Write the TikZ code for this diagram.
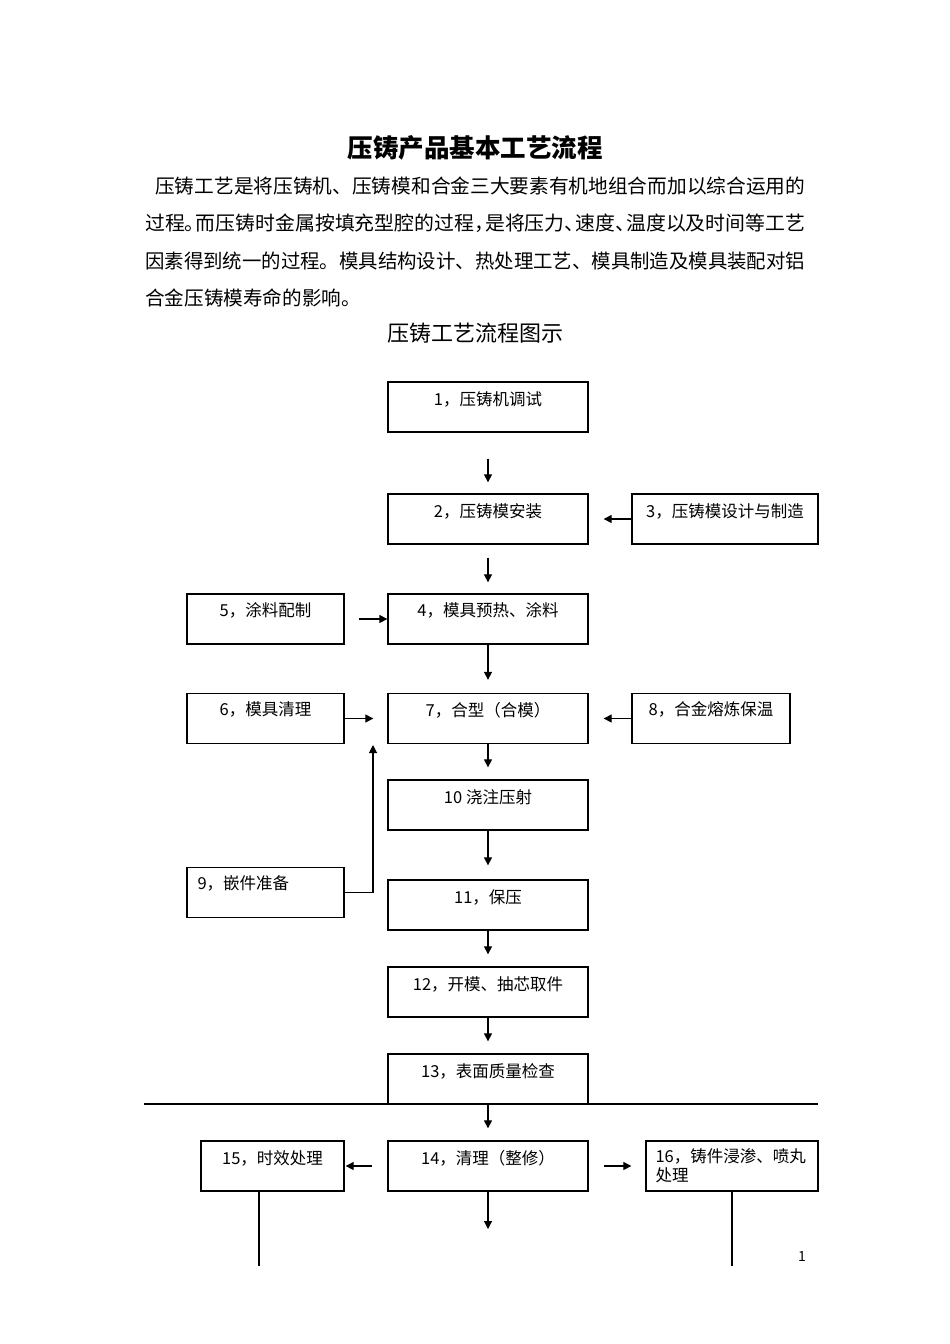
\documentclass[tikz,border=0pt]{standalone}
\usepackage{fontspec}
\usepackage{graphicx}
\setmainfont{Noto Sans CJK SC}
\usetikzlibrary{arrows.meta}
\newcommand{\hp}[1]{\makebox[0.55em][l]{#1}}
\newcommand{\fitline}[1]{\resizebox{660pt}{\height}{#1}}
\begin{document}
\begin{tikzpicture}[x=1pt,y=-1pt,
  box/.style={draw, line width=1.3pt, rectangle, minimum height=50pt, inner sep=0pt},
  lbl/.style={font=\fontsize{16.5}{19}\selectfont, inner sep=0pt},
  body/.style={font=\fontsize{19.6}{22}\selectfont, inner sep=0pt, anchor=west},
  arr/.style={line width=1.1pt, -{Triangle[length=8pt,width=8pt]}},
  ln/.style={line width=1.1pt}]
\useasboundingbox (0,0) rectangle (950,1344);
% title and text
\node[font=\fontsize{25.5}{28}\bfseries\selectfont, inner sep=0pt] (title) at (475,148) {压铸产品基本工艺流程};
\node[body] (p1) at (145,186) {\fitline{\hspace{10pt}压铸工艺是将压铸机、压铸模和合金三大要素有机地组合而加以综合运用的}};
\node[body] (p2) at (145,223) {\fitline{过程\hp{。}而压铸时金属按填充型腔的过程\hp{，}是将压力\hp{、}速度\hp{、}温度以及时间等工艺}};
\node[body] (p3) at (145,261) {\fitline{因素得到统一的过程。模具结构设计、热处理工艺、模具制造及模具装配对铝}};
\node[body] (p4) at (145,298) {合金压铸模寿命的影响。};
\node[font=\fontsize{22}{24}\selectfont, inner sep=0pt] (sub) at (475,333) {压铸工艺流程图示};
% boxes
\node[box, minimum width=200pt] (b1) at (488,407) {};
\node[box, minimum width=200pt] (b2) at (488,519) {};
\node[box, minimum width=186pt] (b3) at (725,519) {};
\node[box, minimum width=200pt] (b4) at (488,619) {};
\node[box, minimum width=157pt] (b5) at (265.5,619) {};
\node[box, minimum width=157pt] (b6) at (265.5,718.5) {};
\node[box, minimum width=200pt] (b7) at (488,718.5) {};
\node[box, minimum width=158pt] (b8) at (711,718.5) {};
\node[box, minimum width=200pt] (b10) at (488,805) {};
\node[box, minimum width=157pt] (b9) at (265.5,892.5) {};
\node[box, minimum width=200pt] (b11) at (488,905) {};
\node[box, minimum width=200pt] (b12) at (488,992) {};
\node[box, minimum width=200pt] (b13) at (488,1079) {};
\node[box, minimum width=200pt] (b14) at (488,1166) {};
\node[box, minimum width=143pt] (b15) at (272.5,1166) {};
\node[box, minimum width=172pt] (b16) at (732,1166) {};
% labels
\node[lbl] (t1) at ([yshift=-18pt]b1.north) {1，压铸机调试};
\node[lbl] (t2) at ([yshift=-18pt]b2.north) {2，压铸模安装};
\node[lbl] (t3) at ([yshift=-18pt]b3.north) {3，压铸模设计与制造};
\node[lbl] (t4) at ([yshift=-17pt]b4.north) {4，模具预热、涂料};
\node[lbl] (t5) at ([yshift=-17pt]b5.north) {5，涂料配制};
\node[lbl] (t6) at ([yshift=-17pt]b6.north) {6，模具清理};
\node[lbl] (t7) at ([yshift=-17pt]b7.north) {7，合型（合模）};
\node[lbl] (t8) at ([yshift=-17pt]b8.north) {8，合金熔炼保温};
\node[lbl] (t10) at ([yshift=-18pt]b10.north) {10 浇注压射};
\node[lbl, anchor=west] (t9) at ([xshift=11pt,yshift=-17pt]b9.north west) {9，嵌件准备};
\node[lbl] (t11) at ([yshift=-18pt]b11.north) {11，保压};
\node[lbl] (t12) at ([yshift=-18pt]b12.north) {12，开模、抽芯取件};
\node[lbl] (t13) at ([yshift=-18pt]b13.north) {13，表面质量检查};
\node[lbl] (t14) at ([yshift=-18pt]b14.north) {14，清理（整修）};
\node[lbl] (t15) at ([yshift=-18pt]b15.north) {15，时效处理};
\node[lbl, anchor=west, align=left] (t16) at ([xshift=10pt]b16.west) {16，铸件浸渗、喷丸\\处理};
\node[font=\fontsize{14}{16}\selectfont, inner sep=0pt] (pg) at (802,1256) {1};
% free ends
\coordinate (j9) at (373,745);
\coordinate (e14) at (488,1229);
\coordinate (e15) at (259,1266);
\coordinate (e16) at (732,1266);
\coordinate (hl) at (144,1104);
\coordinate (hr) at (818,1104);
% connectors
\draw[arr, shorten <=26pt, shorten >=11pt] (b1) -- (b2);
\draw[arr, shorten >=15pt] (b3) -- (b2);
\draw[arr, shorten <=13pt, shorten >=11pt] (b2) -- (b4);
\draw[arr, shorten <=14pt] (b5) -- (b4);
\draw[arr, shorten >=13pt] (b4) -- (b7);
\draw[arr, shorten >=14pt] (b6) -- (b7);
\draw[arr, shorten >=15pt] (b8) -- (b7);
\draw[arr, shorten >=12pt] (b7) -- (b10);
\draw[arr, shorten >=14pt] (b10) -- (b11);
\draw[arr] (b9) -| (j9);
\draw[arr, shorten >=12pt] (b11) -- (b12);
\draw[arr, shorten >=12pt] (b12) -- (b13);
\draw[arr, shorten >=12pt] (b13) -- (b14);
\draw[arr, shorten <=15pt, shorten >=1pt] (b14) -- (b15);
\draw[arr, shorten <=15pt, shorten >=14pt] (b14) -- (b16);
\draw[arr] (b14) -- (e14);
\draw[ln] (e15 |- b15.south) -- (e15);
\draw[ln] (b16) -- (e16);
\draw[ln] (hl) -- (hr);
\end{tikzpicture}
\end{document}
